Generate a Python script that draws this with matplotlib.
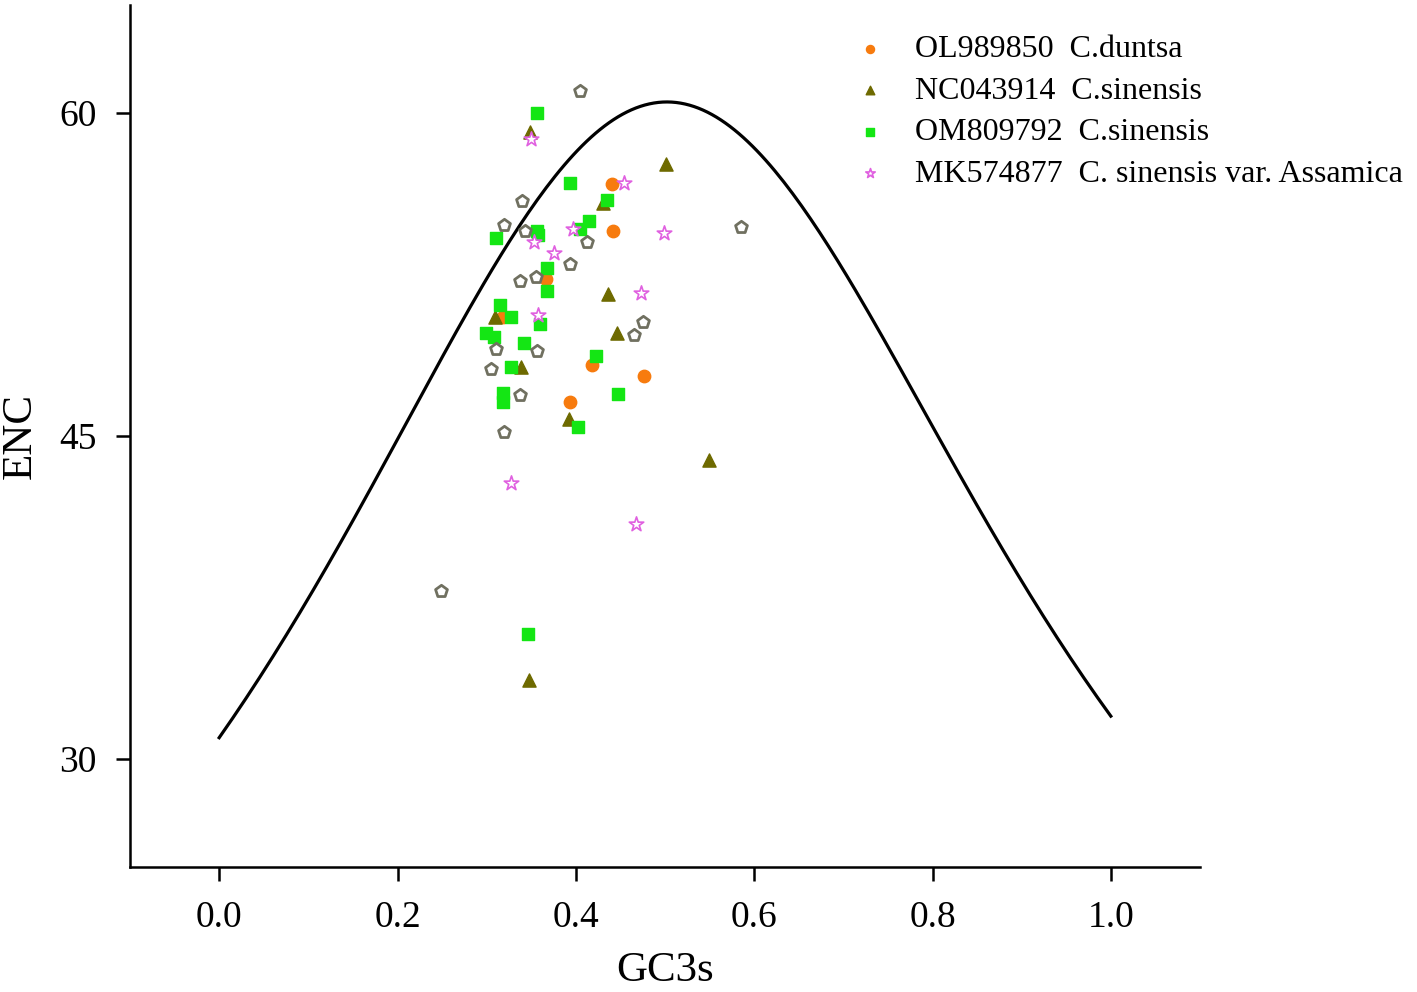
import numpy as np
import matplotlib.pyplot as plt

"""
ENC-plot: effective number of codons vs GC3s for four Camellia plastomes.
"""

# --- Data ---
# OL989850 C.duntsa
dun_x = [0.441, 0.442, 0.367, 0.318, 0.418, 0.393, 0.476]
dun_y = [56.7, 54.5, 52.3, 50.5, 48.3, 46.6, 47.8]

# NC043914 C.sinensis
sin_x = [0.349, 0.501, 0.431, 0.436, 0.309, 0.446, 0.339, 0.392, 0.549, 0.347]
sin_y = [59.1, 57.6, 55.8, 51.6, 50.5, 49.8, 48.2, 45.8, 43.9, 33.7]

# OM809792 C.sinensis
om_x = [0.356, 0.394, 0.435, 0.415, 0.405, 0.357, 0.358, 0.310, 0.368, 0.368,
        0.315, 0.327, 0.360, 0.299, 0.308, 0.342, 0.327, 0.423, 0.318, 0.318,
        0.447, 0.402, 0.346]
om_y = [60.0, 56.75, 55.97, 55.0, 54.6, 54.5, 54.35, 54.2, 52.8, 51.75,
        51.1, 50.5, 50.2, 49.8, 49.6, 49.3, 48.2, 48.7, 47.0, 46.6,
        46.97, 45.4, 35.8]

# MK574877 C. sinensis var. Assamica
ass_x = [0.350, 0.454, 0.397, 0.499, 0.353, 0.375, 0.473, 0.358, 0.327, 0.467]
ass_y = [58.8, 56.75, 54.6, 54.4, 54.0, 53.5, 51.65, 50.6, 42.8, 40.9]

# genes with identical values in all four genomes (markers overlap)
shared_x = [0.405, 0.340, 0.343, 0.413, 0.393, 0.355, 0.337, 0.319, 0.310,
            0.356, 0.305, 0.337, 0.475, 0.465, 0.585, 0.249, 0.319]
shared_y = [61.0, 55.9, 54.5, 54.0, 53.0, 52.4, 52.2, 54.8, 49.05,
            48.95, 48.1, 46.9, 50.3, 49.7, 54.7, 37.8, 45.2]

# expected ENC curve (Wright 1990)
gc3 = np.linspace(0, 1, 200)
enc_exp = 2 + gc3 + 29 / (gc3 ** 2 + (1 - gc3) ** 2)

plt.rcParams['font.family'] = ['Liberation Serif', 'DejaVu Serif']

fig = plt.figure(figsize=(14.17, 9.92), dpi=100)
ax = fig.add_axes([130 / 1417, 125 / 992, 1070 / 1417, 862 / 992])

ax.plot(gc3, enc_exp, color='black', linewidth=2.3, zorder=1)

ax.scatter(dun_x, dun_y, s=80, marker='o', color='#F77B0E', zorder=3,
           label='OL989850  C.duntsa')
ax.scatter(sin_x, sin_y, s=90, marker='^', color='#6E6A00', zorder=4,
           label='NC043914  C.sinensis')
ax.scatter(om_x, om_y, s=85, marker='s', color='#14E614', zorder=5,
           label='OM809792  C.sinensis')
ax.scatter(ass_x, ass_y, s=120, marker='*', facecolor='white',
           edgecolor='#E060E0', linewidth=1.2, zorder=6,
           label='MK574877  C. sinensis var. Assamica')
ax.scatter(shared_x, shared_y, s=80, marker='p', facecolor='white',
           edgecolor='#707060', linewidth=2, zorder=6)

ax.set_xlim(-0.1, 1.1)
ax.set_ylim(25, 65)
ax.set_xticks([0.0, 0.2, 0.4, 0.6, 0.8, 1.0])
ax.set_xticklabels(['0.0', '0.2', '0.4', '0.6', '0.8', '1.0'])
ax.set_yticks([30, 45, 60])

ax.spines['top'].set_visible(False)
ax.spines['right'].set_visible(False)
for side in ['left', 'bottom']:
    ax.spines[side].set_linewidth(1.8)
ax.tick_params(direction='out', length=10, width=1.8, labelsize=27, pad=14)

ax.set_xlabel('GC3s', fontsize=31, labelpad=12)
ax.set_ylabel('ENC', fontsize=31, labelpad=14)

fig.legend(loc='upper left', bbox_to_anchor=(838 / 1417, 1 - 22 / 992),
           frameon=False, fontsize=23, handletextpad=0.8, labelspacing=0.38,
           markerscale=0.65, handlelength=1.2, borderaxespad=0)

fig.savefig('out.png', dpi=100)
